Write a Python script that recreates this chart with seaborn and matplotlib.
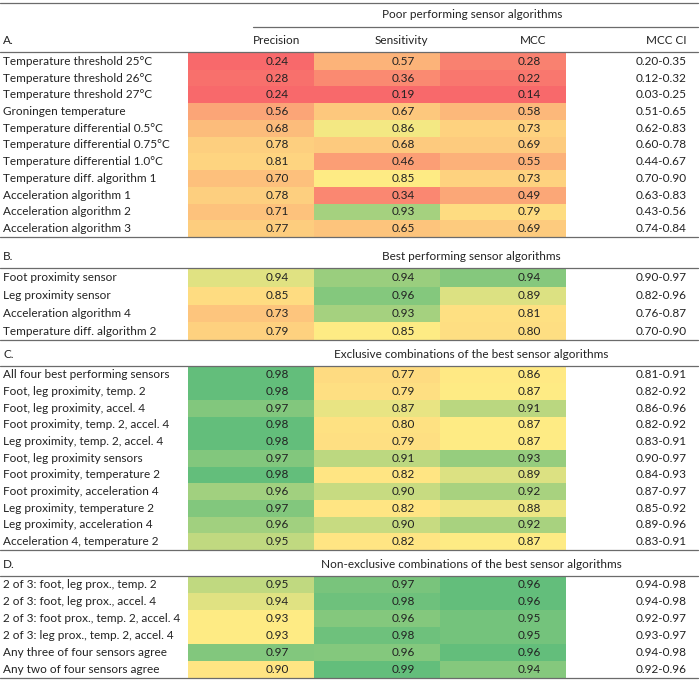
import numpy as np
import matplotlib.pyplot as plt
import seaborn as sns
from matplotlib.colors import LinearSegmentedColormap, TwoSlopeNorm
from matplotlib.lines import Line2D

sns.set_theme(style='white')
plt.rcParams['font.family'] = ['Lato', 'DejaVu Sans']

# ---- data -------------------------------------------------------------
a_labels = ['Temperature threshold 25°C', 'Temperature threshold 26°C',
            'Temperature threshold 27°C', 'Groningen temperature',
            'Temperature differential 0.5°C', 'Temperature differential 0.75°C',
            'Temperature differential 1.0°C', 'Temperature diff. algorithm 1',
            'Acceleration algorithm 1', 'Acceleration algorithm 2',
            'Acceleration algorithm 3']
a_precision = [0.24, 0.28, 0.24, 0.56, 0.68, 0.78, 0.81, 0.70, 0.78, 0.71, 0.77]
a_sensitivity = [0.57, 0.36, 0.19, 0.67, 0.86, 0.68, 0.46, 0.85, 0.34, 0.93, 0.65]
a_mcc = [0.28, 0.22, 0.14, 0.58, 0.73, 0.69, 0.55, 0.73, 0.49, 0.79, 0.69]
a_ci = ['0.20-0.35', '0.12-0.32', '0.03-0.25', '0.51-0.65', '0.62-0.83', '0.60-0.78',
        '0.44-0.67', '0.70-0.90', '0.63-0.83', '0.43-0.56', '0.74-0.84']

b_labels = ['Foot proximity sensor', 'Leg proximity sensor',
            'Acceleration algorithm 4', 'Temperature diff. algorithm 2']
b_precision = [0.94, 0.85, 0.73, 0.79]
b_sensitivity = [0.94, 0.96, 0.93, 0.85]
b_mcc = [0.94, 0.89, 0.81, 0.80]
b_ci = ['0.90-0.97', '0.82-0.96', '0.76-0.87', '0.70-0.90']

c_labels = ['All four best performing sensors', 'Foot, leg proximity, temp. 2',
            'Foot, leg proximity, accel. 4', 'Foot proximity, temp. 2, accel. 4',
            'Leg proximity, temp. 2, accel. 4', 'Foot, leg proximity sensors',
            'Foot proximity, temperature 2', 'Foot proximity, acceleration 4',
            'Leg proximity, temperature 2', 'Leg proximity, acceleration 4',
            'Acceleration 4, temperature 2']
c_precision = [0.98, 0.98, 0.97, 0.98, 0.98, 0.97, 0.98, 0.96, 0.97, 0.96, 0.95]
c_sensitivity = [0.77, 0.79, 0.87, 0.80, 0.79, 0.91, 0.82, 0.90, 0.82, 0.90, 0.82]
c_mcc = [0.86, 0.87, 0.91, 0.87, 0.87, 0.93, 0.89, 0.92, 0.88, 0.92, 0.87]
c_ci = ['0.81-0.91', '0.82-0.92', '0.86-0.96', '0.82-0.92', '0.83-0.91', '0.90-0.97',
        '0.84-0.93', '0.87-0.97', '0.85-0.92', '0.89-0.96', '0.83-0.91']

d_labels = ['2 of 3: foot, leg prox., temp. 2', '2 of 3: foot, leg prox., accel. 4',
            '2 of 3: foot prox., temp. 2, accel. 4', '2 of 3: leg prox., temp. 2, accel. 4',
            'Any three of four sensors agree', 'Any two of four sensors agree']
d_precision = [0.95, 0.94, 0.93, 0.93, 0.97, 0.90]
d_sensitivity = [0.97, 0.98, 0.96, 0.98, 0.96, 0.99]
d_mcc = [0.96, 0.96, 0.95, 0.95, 0.96, 0.94]
d_ci = ['0.94-0.98', '0.94-0.98', '0.92-0.97', '0.93-0.97', '0.94-0.98', '0.92-0.96']

columns = ['Precision', 'Sensitivity', 'MCC']

sections = [
    ('A.', 'Poor performing sensor algorithms', a_labels, a_precision, a_sensitivity, a_mcc, a_ci),
    ('B.', 'Best performing sensor algorithms', b_labels, b_precision, b_sensitivity, b_mcc, b_ci),
    ('C.', 'Exclusive combinations of the best sensor algorithms', c_labels, c_precision, c_sensitivity, c_mcc, c_ci),
    ('D.', 'Non-exclusive combinations of the best sensor algorithms', d_labels, d_precision, d_sensitivity, d_mcc, d_ci),
]

# Excel style 3-colour scale per column: min red, median yellow, max green
cmap = LinearSegmentedColormap.from_list('rdylgn_xl', ['#F8696B', '#FFEB84', '#63BE7B'])
norms = []
for k in range(3):
    allv = np.concatenate([np.array(s[3 + k]) for s in sections])
    norms.append(TwoSlopeNorm(vmin=allv.min(), vcenter=np.median(allv), vmax=allv.max()))

# ---- layout (pixel positions, measured from top) ------------------------
W, H = 700, 683
fig = plt.figure(figsize=(7, 6.83), dpi=100)

def fy(py):
    return 1 - py / H

x0, x1 = 188, 566
cell_spans = [(53, 237), (269, 340), (366.5, 550), (576, 678)]
header_y = [None, 256, 355, 565]
fs = 8.5
txt_col = '#222222'

for (tag, title, labels, prec, sens, mcc, ci), (top, bot), hy in zip(sections, cell_spans, header_y):
    ax = fig.add_axes([x0 / W, fy(bot), (x1 - x0) / W, (bot - top) / H])
    raw = np.column_stack([prec, sens, mcc])
    scaled = np.column_stack([norms[k](raw[:, k]) for k in range(3)])
    sns.heatmap(scaled, ax=ax, cmap=cmap, vmin=0, vmax=1, cbar=False,
                annot=raw, fmt='.2f',
                annot_kws={'color': txt_col, 'fontsize': fs},
                xticklabels=False, yticklabels=labels)
    # numbers sit right of cell centre in the original
    for t in ax.texts:
        x, y = t.get_position()
        t.set_x(x + 0.21)
    ax.tick_params(axis='y', length=0, pad=133.2, labelsize=fs, labelcolor=txt_col)
    for lab in ax.get_yticklabels():
        lab.set_ha('left')
        lab.set_rotation(0)
    for i, c in enumerate(ci):
        ax.text(3.96, i + 0.5, c, ha='right', va='center', fontsize=fs, color=txt_col)
    if hy is not None:
        fig.text(3 / W, fy(hy), tag, ha='left', va='center', fontsize=fs, color=txt_col)
        fig.text(471 / W, fy(hy), title, ha='center', va='center', fontsize=fs, color=txt_col)

# header of the first section
fig.text(472 / W, fy(15), sections[0][1], ha='center', va='center', fontsize=fs, color=txt_col)
fig.text(3 / W, fy(41), 'A.', ha='left', va='center', fontsize=fs, color=txt_col)
for name, px in zip(columns, [277, 401, 533]):
    fig.text(px / W, fy(41), name, ha='center', va='center', fontsize=fs, color=txt_col)
fig.text(686 / W, fy(41), 'MCC CI', ha='right', va='center', fontsize=fs, color=txt_col)

# rules
line_col = '#6b6b6b'
for py in [3, 52, 237, 268, 340, 366, 550, 576, 678]:
    fig.add_artist(Line2D([0, 698 / W], [fy(py), fy(py)], color=line_col, lw=0.9))
fig.add_artist(Line2D([253 / W, 698 / W], [fy(27), fy(27)], color=line_col, lw=0.9))

fig.savefig('out.png', dpi=100)
